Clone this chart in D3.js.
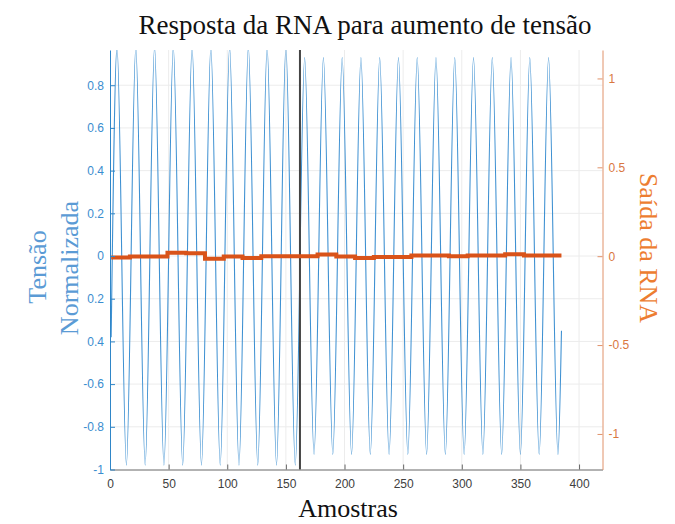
<!DOCTYPE html>
<meta charset="utf-8">
<style type="text/css">
  body {
    margin: 0;
    background: #fff;
  }
  .tick text {
    font-family: "Liberation Sans", Arial, sans-serif;
    font-size: 12px;
  }
  .grid line {
    stroke: #ececec;
    stroke-width: 1;
  }
  .serif {
    font-family: "Liberation Serif", "Times New Roman", serif;
    font-size: 26px;
  }
</style>
<body>
<svg width="675" height="524"></svg>
<script src="https://d3js.org/d3.v7.min.js"></script>
<script>

  /* Data */
  // blue: normalised voltage, extremes of each cycle
  var peakSamples   = [6, 22, 38, 54, 70, 86, 102, 118, 134, 150, 166, 182, 198, 214, 230, 246, 262, 278, 294, 310, 326, 342, 358, 374];
  var peakValues    = [0.98, 0.98, 0.98, 0.98, 0.98, 0.98, 0.98, 0.98, 0.98, 0.98,
                       0.93, 0.93, 0.93, 0.93, 0.93, 0.93, 0.93, 0.93, 0.93, 0.93, 0.93, 0.93, 0.93, 0.93];
  var troughSamples = [14, 30, 46, 62, 78, 94, 110, 126, 142, 158, 174, 190, 206, 222, 238, 254, 270, 286, 302, 318, 334, 350, 366, 382];
  var troughValues  = [-0.98, -0.98, -0.98, -0.98, -0.98, -0.98, -0.98, -0.98, -0.98, -0.98,
                       -0.93, -0.93, -0.93, -0.93, -0.93, -0.93, -0.93, -0.93, -0.93, -0.93, -0.93, -0.93, -0.93, -0.93];
  var startSample = 1,   startValue = -0.38;
  var endSample   = 385, endValue   = -0.35;

  // orange: network output, one value per cycle
  var rnaSteps  = [1, 17, 33, 49, 65, 81, 97, 113, 129, 145, 161, 177, 193, 209, 225, 241, 257, 273, 289, 305, 321, 337, 353, 369];
  var rnaValues = [-0.008, -0.002, -0.002, 0.019, 0.017, -0.014, -0.002, -0.010, -0.001, 0.000, 0.000, 0.009,
                   -0.002, -0.010, -0.004, -0.004, 0.004, 0.004, 0.000, 0.004, 0.004, 0.011, 0.004, 0.004];
  var rnaEnd = 385;

  var changeSample = 162;   // vertical marker

  // ticks
  var xTicks = [0, 50, 100, 150, 200, 250, 300, 350, 400];
  var leftTicks  = [-1, -0.8, -0.6, -0.4, -0.2, 0, 0.2, 0.4, 0.6, 0.8];
  var leftLabels = ["-1", "-0.8", "-0.6", "0.4", "0.2", "0", "0.2", "0.4", "0.6", "0.8"];
  var rightTicks  = [-1, -0.5, 0, 0.5, 1];
  var rightLabels = ["-1", "-0.5", "0", "0.5", "1"];

  /* Scales */
  var plotL = 110, plotR = 602.5, plotT = 50, plotB = 469.5;
  var x  = d3.scaleLinear().domain([0, 420]).range([plotL, plotR]);
  var yL = d3.scaleLinear().domain([-1, 0.965]).range([plotB, plotT]);
  var yR = d3.scaleLinear().domain([-1.2, 1.16]).range([plotB, plotT]);

  var svg = d3.select("svg");

  svg.append("defs").append("clipPath").attr("id", "plotclip")
    .append("rect")
      .attr("x", plotL).attr("y", plotT)
      .attr("width", plotR - plotL).attr("height", plotB - plotT);

  /* Grid */
  var grid = svg.append("g").attr("class", "grid");
  grid.selectAll("line.v")
    .data(xTicks.slice(1))
    .enter().append("line")
      .attr("x1", function(d) { return x(d); })
      .attr("x2", function(d) { return x(d); })
      .attr("y1", plotT).attr("y2", plotB);
  grid.selectAll("line.h")
    .data(leftTicks.slice(1))
    .enter().append("line")
      .attr("x1", plotL).attr("x2", plotR)
      .attr("y1", function(d) { return yL(d); })
      .attr("y2", function(d) { return yL(d); });

  /* Blue line */
  var bluePts = [[startSample, startValue]];
  peakSamples.forEach(function(s, i) {
    bluePts.push([s, peakValues[i]]);
    bluePts.push([troughSamples[i], troughValues[i]]);
  });
  bluePts.push([endSample, endValue]);

  var blueLine = d3.line()
    .x(function(d) { return x(d[0]); })
    .y(function(d) { return yL(d[1]); })
    .curve(d3.curveMonotoneX);

  svg.append("path")
    .datum(bluePts)
    .attr("clip-path", "url(#plotclip)")
    .attr("fill", "none")
    .attr("stroke", "#3f91d2")
    .attr("stroke-width", 1.1)
    .attr("d", blueLine);

  /* Vertical marker */
  svg.append("line")
    .attr("x1", x(changeSample)).attr("x2", x(changeSample))
    .attr("y1", plotT).attr("y2", plotB)
    .attr("stroke", "#444")
    .attr("stroke-width", 2);

  /* Orange step line */
  var rnaPts = rnaSteps.map(function(s, i) { return [s, rnaValues[i]]; });
  rnaPts.push([rnaEnd, rnaValues[rnaValues.length - 1]]);

  var rnaLine = d3.line()
    .x(function(d) { return x(d[0]); })
    .y(function(d) { return yR(d[1]); })
    .curve(d3.curveStepAfter);

  svg.append("path")
    .datum(rnaPts)
    .attr("fill", "none")
    .attr("stroke", "#d95319")
    .attr("stroke-width", 4)
    .attr("d", rnaLine);

  /* Axes */
  var xAxis = svg.append("g")
    .attr("transform", "translate(0," + plotB + ")")
    .call(d3.axisBottom(x).tickValues(xTicks).tickSize(-5).tickSizeOuter(0).tickPadding(10)
      .tickFormat(function(d) { return d; }));
  xAxis.select(".domain").attr("stroke", "#666");
  xAxis.selectAll(".tick line").attr("stroke", "#666");
  xAxis.selectAll(".tick text").attr("fill", "#404040");

  var lAxis = svg.append("g")
    .attr("transform", "translate(" + plotL + ",0)")
    .call(d3.axisLeft(yL).tickValues(leftTicks).tickSize(-5).tickSizeOuter(0).tickPadding(6)
      .tickFormat(function(d, i) { return leftLabels[i]; }));
  lAxis.select(".domain").attr("stroke", "#2f86c8");
  lAxis.selectAll(".tick line").attr("stroke", "#2f86c8");
  lAxis.selectAll(".tick text").attr("fill", "#3a8dcf");

  var rAxis = svg.append("g")
    .attr("transform", "translate(" + plotR + ",0)")
    .call(d3.axisRight(yR).tickValues(rightTicks).tickSize(-5).tickSizeOuter(0).tickPadding(6)
      .tickFormat(function(d, i) { return rightLabels[i]; }));
  rAxis.select(".domain").attr("stroke", "#e0926a");
  rAxis.selectAll(".tick line").attr("stroke", "#e0926a");
  rAxis.selectAll(".tick text").attr("fill", "#d9773f");

  /* Titles */
  svg.append("text")
    .attr("class", "serif")
    .attr("x", 365).attr("y", 34)
    .attr("text-anchor", "middle")
    .attr("fill", "#111")
    .style("font-size", "27px")
    .text("Resposta da RNA para aumento de tensão");

  svg.append("text")
    .attr("class", "serif")
    .attr("x", 348).attr("y", 517)
    .attr("text-anchor", "middle")
    .attr("fill", "#111")
    .text("Amostras");

  svg.append("text")
    .attr("class", "serif")
    .attr("transform", "translate(46,267) rotate(-90)")
    .attr("text-anchor", "middle")
    .attr("fill", "#5b9bd5")
    .text("Tensão");

  svg.append("text")
    .attr("class", "serif")
    .attr("transform", "translate(78,268) rotate(-90)")
    .attr("text-anchor", "middle")
    .attr("fill", "#5b9bd5")
    .text("Normalizada");

  svg.append("text")
    .attr("class", "serif")
    .attr("transform", "translate(640,248) rotate(90)")
    .attr("text-anchor", "middle")
    .attr("fill", "#ed7d31")
    .text("Saída da RNA");

</script>
</body>
